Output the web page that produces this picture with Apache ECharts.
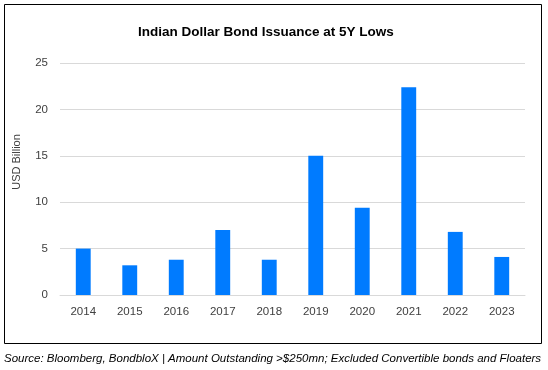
<!DOCTYPE html>
<html>
<head>
<meta charset="utf-8">
<script src="https://cdn.jsdelivr.net/npm/echarts@6/dist/echarts.min.js"></script>
<style>html,body{margin:0;padding:0;background:#fff}#c{width:548px;height:370px}</style>
</head>
<body>
<div id="c"></div>
<script>
var categories = ['2014','2015','2016','2017','2018','2019','2020','2021','2022','2023'];
var issuance = [5.0, 3.2, 3.8, 7.0, 3.8, 15.0, 9.4, 22.4, 6.8, 4.1];
var titleText = 'Indian Dollar Bond Issuance at 5Y Lows';
var yName = 'USD Billion';
var sourceText = 'Source: Bloomberg, BondbloX | Amount Outstanding >$250mn; Excluded Convertible bonds and Floaters';

var chart = echarts.init(document.getElementById('c'), null, {renderer:'canvas'});
var FONT = '"Liberation Sans", "DejaVu Sans", sans-serif';
chart.setOption({
  animation: false,
  backgroundColor: '#fff',
  title: {
    text: titleText, left: 133, top: 20,
    textStyle: {fontFamily: FONT, fontSize: 13.5, fontWeight: 'bold', color: '#000'}
  },
  graphic: [
    {type:'rect', shape:{x:4.5, y:4.5, width:537, height:339}, style:{fill:'none', stroke:'#000', lineWidth:1}, z:-1},
    {type:'text', x: 4, y: 359, style:{text: sourceText, font: 'italic 11.5px ' + FONT, fill:'#000', textVerticalAlign:'middle'}},
    {type:'text', x: 17, y: 162, rotation: Math.PI/2, style:{text: yName, font: '11px ' + FONT, fill:'#404040', textAlign:'center', textVerticalAlign:'middle'}}
  ],
  grid: {left: 60, right: 23, top: 63, bottom: 75},
  xAxis: {
    type: 'category', data: categories,
    axisLine: {lineStyle: {color: '#d9d9d9'}},
    axisTick: {show: false},
    axisLabel: {color: '#404040', fontFamily: FONT, fontSize: 11.5, margin: 11}
  },
  yAxis: {
    type: 'value', min: 0, max: 25, interval: 5,
    axisLine: {show: false}, axisTick: {show: false},
    axisLabel: {color: '#404040', fontFamily: FONT, fontSize: 11.5, margin: 12},
    splitLine: {lineStyle: {color: '#d9d9d9'}}
  },
  series: [{
    type: 'bar', data: issuance, barWidth: '32%',
    itemStyle: {color: '#007bff'}
  }]
});
</script>
</body>
</html>
